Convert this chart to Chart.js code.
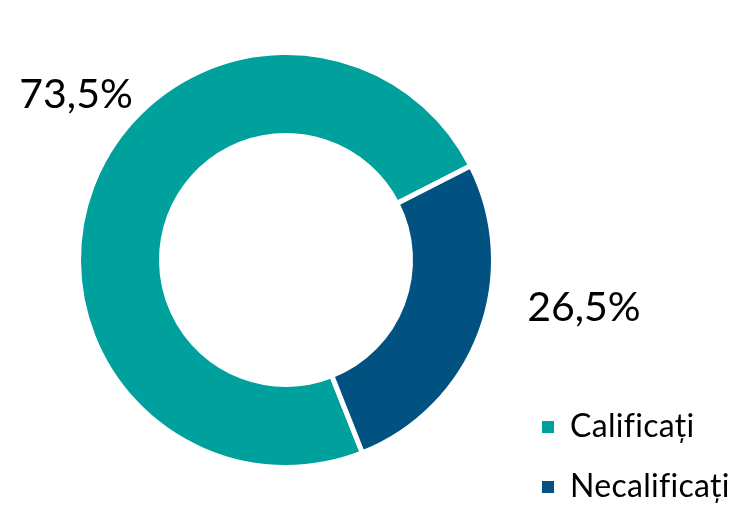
<!DOCTYPE html>
<html>
<head>
<meta charset="utf-8">
<script src="https://cdn.jsdelivr.net/npm/chart.js@4/dist/chart.umd.min.js"></script>
<style>
  html, body { margin: 0; padding: 0; background: #ffffff; }
  #wrap { width: 738px; height: 505px; position: relative; }
</style>
</head>
<body>
<div id="wrap"><canvas id="c" width="738" height="505"></canvas></div>
<script>
// Share of workers by qualification
const categories = ['Calificați', 'Necalificați'];
const shares = [73.5, 26.5];
const sliceColors = ['#00A19C', '#025281'];

const fmt = v => v.toFixed(1).replace('.', ',') + '%';

// Percentage labels placed outside each slice
const outerLabels = {
  id: 'outerLabels',
  afterDatasetsDraw(chart, args, opts) {
    const ctx = chart.ctx;
    const meta = chart.getDatasetMeta(0);
    ctx.save();
    ctx.font = opts.font;
    ctx.fillStyle = opts.color;
    ctx.textAlign = 'center';
    ctx.textBaseline = 'middle';
    meta.data.forEach((arc, i) => {
      const p = arc.getProps(['x', 'y', 'startAngle', 'endAngle', 'outerRadius'], true);
      const a = p.startAngle + opts.angleFrac[i] * (p.endAngle - p.startAngle);
      const r = p.outerRadius * opts.radiusFactor[i];
      ctx.fillText(fmt(chart.data.datasets[0].data[i]), p.x + Math.cos(a) * r, p.y + Math.sin(a) * r);
    });
    ctx.restore();
  }
};

// Legend block at the lower right
const cornerLegend = {
  id: 'cornerLegend',
  afterDraw(chart, args, opts) {
    const ctx = chart.ctx;
    const ds = chart.data.datasets[0];
    ctx.save();
    ctx.font = opts.font;
    ctx.textAlign = 'left';
    ctx.textBaseline = 'alphabetic';
    // a tiny letter spacing keeps "fi" as two separate glyphs
    if ('letterSpacing' in ctx) ctx.letterSpacing = '0.3px';
    chart.data.labels.forEach((lab, i) => {
      const base = opts.y + i * opts.step;
      ctx.fillStyle = ds.backgroundColor[i];
      ctx.fillRect(opts.x, base - opts.box - 4, opts.box, opts.box);
      ctx.fillStyle = opts.color;
      ctx.fillText(lab, opts.x + opts.textGap, base);
    });
    ctx.restore();
  }
};

new Chart(document.getElementById('c'), {
  type: 'doughnut',
  data: {
    labels: categories,
    datasets: [{
      data: shares,
      backgroundColor: sliceColors,
      borderColor: '#ffffff',
      borderWidth: 5,
      hoverOffset: 0
    }]
  },
  options: {
    responsive: false,
    animation: false,
    rotation: 158.4,
    cutout: '60%',
    layout: { padding: { left: 76, right: 242, top: 50, bottom: 35 } },
    plugins: {
      legend: { display: false },
      tooltip: { enabled: false },
      outerLabels: {
        font: '41px Lato, "Open Sans", sans-serif',
        color: '#000000',
        angleFrac: [0.566, 0.378],
        radiusFactor: [1.287, 1.454]
      },
      cornerLegend: {
        font: '32px Lato, "Open Sans", sans-serif',
        color: '#000000',
        x: 542, y: 437, step: 60, box: 12, textGap: 28
      }
    }
  },
  plugins: [outerLabels, cornerLegend]
});
</script>
</body>
</html>
